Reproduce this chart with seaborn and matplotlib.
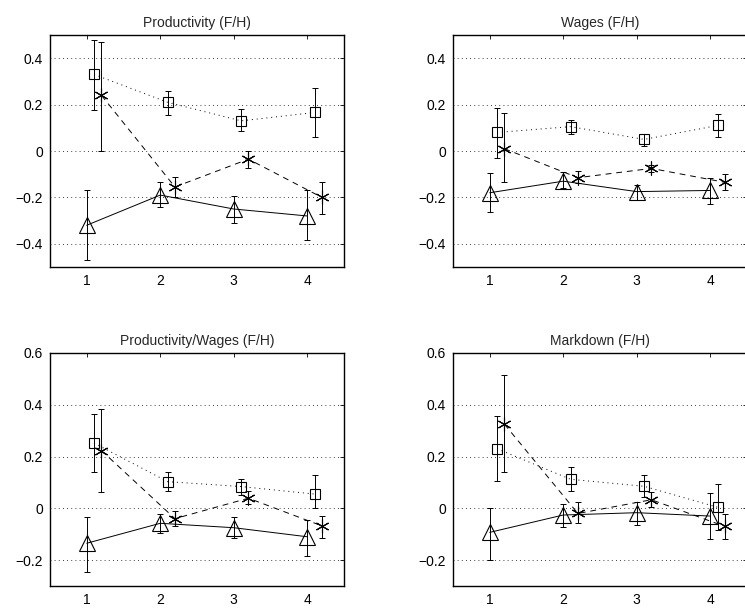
import numpy as np
import pandas as pd
import matplotlib
matplotlib.use("Agg")
import matplotlib.pyplot as plt
import seaborn as sns

# panel titles and x positions
titles = ["Productivity (F/H)", "Wages (F/H)",
          "Productivity/Wages (F/H)", "Markdown (F/H)"]
xpos = [1, 2, 3, 4]

# triangles (solid), squares (dotted), asterisks (dashed): value, low, high
tri_y = [[-0.32, -0.19, -0.25, -0.28],
         [-0.18, -0.13, -0.175, -0.17],
         [-0.135, -0.058, -0.075, -0.11],
         [-0.093, -0.026, -0.017, -0.03]]
tri_lo = [[-0.47, -0.24, -0.31, -0.385],
          [-0.265, -0.16, -0.21, -0.23],
          [-0.245, -0.094, -0.116, -0.185],
          [-0.2, -0.073, -0.065, -0.12]]
tri_hi = [[-0.17, -0.135, -0.195, -0.17],
          [-0.095, -0.09, -0.145, -0.115],
          [-0.035, -0.023, -0.034, -0.045],
          [0.0, 0.015, 0.025, 0.06]]

sq_y = [[0.33, 0.21, 0.13, 0.166],
        [0.08, 0.105, 0.05, 0.11],
        [0.252, 0.103, 0.084, 0.055],
        [0.23, 0.112, 0.085, 0.004]]
sq_lo = [[0.175, 0.155, 0.085, 0.06],
         [-0.03, 0.075, 0.02, 0.06],
         [0.14, 0.068, 0.05, 0.0],
         [0.105, 0.065, 0.045, -0.085]]
sq_hi = [[0.48, 0.26, 0.18, 0.27],
         [0.185, 0.135, 0.075, 0.16],
         [0.364, 0.142, 0.115, 0.13],
         [0.355, 0.16, 0.128, 0.093]]

st_y = [[0.24, -0.155, -0.035, -0.2],
        [0.01, -0.115, -0.075, -0.135],
        [0.223, -0.04, 0.039, -0.068],
        [0.325, -0.02, 0.033, -0.07]]
st_lo = [[0.0, -0.2, -0.075, -0.27],
         [-0.135, -0.14, -0.09, -0.17],
         [0.062, -0.07, 0.015, -0.115],
         [0.14, -0.055, 0.005, -0.12]]
st_hi = [[0.47, -0.11, 0.0, -0.135],
         [0.165, -0.085, -0.06, -0.1],
         [0.383, -0.01, 0.065, -0.03],
         [0.513, 0.025, 0.063, -0.022]]

ylims = [(-0.5, 0.5), (-0.5, 0.5), (-0.3, 0.6), (-0.3, 0.6)]
yticks = [[-0.4, -0.2, 0, 0.2, 0.4], [-0.4, -0.2, 0, 0.2, 0.4],
          [-0.2, 0, 0.2, 0.4, 0.6], [-0.2, 0, 0.2, 0.4, 0.6]]

sns.set_style("white")
plt.rcParams["font.family"] = ["Liberation Sans", "DejaVu Sans"]
plt.rcParams["axes.unicode_minus"] = True

fig = plt.figure(figsize=(7.45, 6.11), dpi=100)
positions = [[0.0671, 0.563, 0.3946, 0.3797],
             [0.608, 0.563, 0.3946, 0.3797],
             [0.0671, 0.041, 0.3946, 0.3813],
             [0.608, 0.041, 0.3946, 0.3813]]

series = [
    ("tri", 0.0, "-", "^", 11),
    ("sq", 0.1, ":", "s", 7),
    ("st", 0.2, "--", (6, 2, 0), 10),
]
vals = {"tri": (tri_y, tri_lo, tri_hi),
        "sq": (sq_y, sq_lo, sq_hi),
        "st": (st_y, st_lo, st_hi)}

for i in range(4):
    ax = fig.add_axes(positions[i])
    for name, off, ls, mk, ms in series:
        y, lo, hi = vals[name]
        df = pd.DataFrame({"x": np.array(xpos) + off, "y": y[i],
                           "lo": lo[i], "hi": hi[i]})
        ax.errorbar(df["x"], df["y"],
                    yerr=[df["y"] - df["lo"], df["hi"] - df["y"]],
                    fmt="none", ecolor="k", elinewidth=0.7, capsize=2,
                    capthick=0.7, zorder=2)
        if ls == ":":
            dash = (0, (1, 4))
        elif ls == "--":
            dash = (0, (6, 5))
        else:
            dash = "-"
        sns.lineplot(data=df, x="x", y="y", ax=ax, color="k",
                     linestyle=dash, linewidth=0.7, marker=mk,
                     markersize=ms, markerfacecolor="none",
                     markeredgecolor="k", markeredgewidth=0.8,
                     errorbar=None, zorder=3)
    ax.set_xlim(0.5, 4.5)
    ax.set_ylim(*ylims[i])
    ax.set_xticks(xpos)
    ax.set_xticklabels([str(v) for v in xpos])
    ax.set_yticks(yticks[i])
    ax.set_yticklabels(["0" if v == 0 else f"{v:.1f}".replace("-", "\u2212")
                        for v in yticks[i]])
    ax.set_xlabel("")
    ax.set_ylabel("")
    ax.grid(False)
    for v in yticks[i]:
        ax.axhline(v, color="k", linewidth=0.6, linestyle=(0, (1, 4)),
                   zorder=1)
    ax.tick_params(direction="in", top=True, right=True, length=3,
                   width=0.6, labelsize=10, pad=5, colors="k")
    for sp in ax.spines.values():
        sp.set_color("k")
        sp.set_linewidth(1.0)
    ax.set_title(titles[i], fontsize=10, pad=6)

fig.savefig("out.png", dpi=100)
